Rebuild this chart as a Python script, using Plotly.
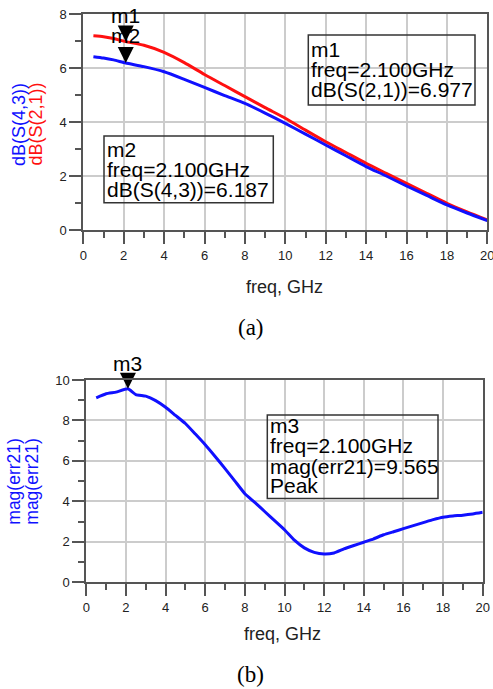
import plotly.graph_objects as go

# ---------------- data ----------------
freq_a = [0.5, 1, 1.5, 2.1, 3, 4, 5, 6, 7, 8, 9, 10, 11, 12, 13, 14, 15, 16, 17, 18, 19, 20]
s21_db = [7.19, 7.16, 7.09, 6.977, 6.84, 6.58, 6.20, 5.76, 5.35, 4.94, 4.53, 4.14, 3.70, 3.27,
          2.87, 2.47, 2.10, 1.73, 1.36, 0.99, 0.67, 0.37]
s43_db = [6.42, 6.37, 6.30, 6.187, 6.05, 5.86, 5.58, 5.28, 4.98, 4.69, 4.33, 3.95, 3.55, 3.15,
          2.75, 2.35, 2.00, 1.63, 1.28, 0.93, 0.63, 0.35]

freq_b = [0.5, 1.0, 1.5, 2.1, 2.5, 3.0, 3.5, 4.0, 4.5, 5.0, 5.5, 6.0, 6.5, 7.0, 7.5, 8.0, 8.5, 9.0,
          9.5, 10.0, 10.5, 11.0, 11.5, 12.0, 12.5, 13.0, 13.5, 14.0, 14.5, 15.0, 15.5, 16.0, 16.5,
          17.0, 17.5, 18.0, 18.5, 19.0, 19.5, 20.0]
err21 = [9.12, 9.32, 9.40, 9.565, 9.28, 9.20, 8.98, 8.65, 8.25, 7.85, 7.33, 6.80, 6.22, 5.62, 5.00,
         4.38, 3.95, 3.50, 3.05, 2.60, 2.08, 1.70, 1.48, 1.40, 1.45, 1.65, 1.82, 1.98, 2.15, 2.35,
         2.50, 2.65, 2.80, 2.95, 3.10, 3.22, 3.28, 3.32, 3.38, 3.46]

m1 = {"name": "m1", "freq": 2.1, "val": 6.977, "label": "dB(S(2,1))=6.977"}
m2 = {"name": "m2", "freq": 2.1, "val": 6.187, "label": "dB(S(4,3))=6.187"}
m3 = {"name": "m3", "freq": 2.1, "val": 9.565, "label": "mag(err21)=9.565"}

# ---------------- layout helpers ----------------
W, H = 493, 689
def px(x):
    return x / W
def py(y):
    return 1 - y / H

RED = "#ff1010"
BLUE = "#1010ff"
AX = "#555555"
GRID = "#cccccc"
SANS = "Liberation Sans, Arial, sans-serif"
SERIF = "Liberation Serif, Times New Roman, serif"

fig = go.Figure()
fig.add_trace(go.Scatter(x=freq_a, y=s21_db, mode="lines",
                         line=dict(color=RED, width=3, shape="spline", smoothing=0.6),
                         xaxis="x", yaxis="y", showlegend=False))
fig.add_trace(go.Scatter(x=freq_a, y=s43_db, mode="lines",
                         line=dict(color=BLUE, width=3, shape="spline", smoothing=0.6),
                         xaxis="x", yaxis="y", showlegend=False))
fig.add_trace(go.Scatter(x=freq_b, y=err21, mode="lines",
                         line=dict(color=BLUE, width=3, shape="spline", smoothing=0.4),
                         xaxis="x2", yaxis="y2", showlegend=False))

# marker triangles (tip on the data point)
for m, xa, ya in [(m1, "x", "y"), (m2, "x", "y"), (m3, "x2", "y2")]:
    fig.add_trace(go.Scatter(x=[m["freq"]], y=[m["val"]], mode="markers", cliponaxis=False,
                             marker=dict(symbol="arrow-down", size=16, color="black",
                                         line=dict(width=0)),
                             xaxis=xa, yaxis=ya, showlegend=False))

def axis_style(domain, rng, anchor):
    return dict(domain=domain, range=rng, anchor=anchor, dtick=2, tick0=0, automargin=False,
                ticklabeloverflow="allow",
                ticks="outside", ticklen=12, tickwidth=2, tickcolor=AX,
                showline=True, linecolor=AX, linewidth=2, mirror=True,
                showgrid=True, gridcolor=GRID, gridwidth=1.5, zeroline=False,
                minor=dict(dtick=1, ticks="outside", ticklen=6, tickwidth=2, tickcolor=AX, showgrid=False),
                tickfont=dict(family=SANS, size=13, color="#222"))

fig.update_layout(
    width=W, height=H, margin=dict(l=0, r=0, t=0, b=0, autoexpand=False),
    paper_bgcolor="white", plot_bgcolor="white", showlegend=False,
    xaxis=axis_style([px(83.3), px(487.3)], [0, 20], "y"),
    yaxis=axis_style([py(230), py(14)], [0, 8], "x"),
    xaxis2=axis_style([px(86.3), px(482.7)], [0, 20], "y2"),
    yaxis2=axis_style([py(582.3), py(380)], [0, 10], "x2"),
)

shapes = []
annotations = []

# marker labels
for m, xa, ya, shift in [(m1, "x", "y", 26), (m2, "x", "y", 27), (m3, "x2", "y2", 25)]:
    annotations.append(dict(x=m["freq"], y=m["val"], xref=xa, yref=ya, text=m["name"],
                            showarrow=False, yshift=shift, xanchor="center", yanchor="middle",
                            font=dict(family=SANS, size=21, color="black")))

# marker readout boxes
def readout(box, lines, baselines, fs=21):
    x0, y0, x1, y1 = box
    shapes.append(dict(type="rect", xref="paper", yref="paper", x0=px(x0), x1=px(x1),
                       y0=py(y1), y1=py(y0), line=dict(color="#333", width=1.5),
                       fillcolor="rgba(0,0,0,0)", layer="above"))
    for t, b in zip(lines, baselines):
        annotations.append(dict(x=px(x0 + 0.5), y=py(b - 7.5), xref="paper", yref="paper",
                                text=t, showarrow=False, xanchor="left", yanchor="middle",
                                font=dict(family=SANS, size=fs, color="black")))

readout((308.3, 35, 475, 105), ["m1", "freq=2.100GHz", m1["label"]], [56.7, 76.7, 96.7])
readout((104, 136, 273.3, 202.7), ["m2", "freq=2.100GHz", m2["label"]], [156.7, 176.7, 196.7])
readout((267.3, 415, 438, 498.5), ["m3", "freq=2.100GHz", m3["label"], "Peak"],
        [433.3, 453.3, 474, 493.3])

# axis titles and captions
def label(x, y, text, size, color, family=SANS, angle=0):
    return dict(x=px(x), y=py(y), xref="paper", yref="paper", text=text, textangle=angle,
                xanchor="center", yanchor="middle", showarrow=False,
                font=dict(family=family, size=size, color=color))

annotations += [
    label(18.5, 124.5, "dB(S(4,3))", 18, BLUE, angle=-90),
    label(35, 124.5, "dB(S(2,1))", 18, RED, angle=-90),
    label(14, 481.7, "mag(err21)", 17.5, BLUE, angle=-90),
    label(32, 481.7, "mag(err21)", 17.5, BLUE, angle=-90),
    label(284.3, 287, "freq, GHz", 18, "#222"),
    label(282.5, 634, "freq, GHz", 18, "#222"),
    label(250.5, 327, "(a)", 23, "black", family=SERIF),
    label(250.5, 674, "(b)", 23, "black", family=SERIF),
]

fig.update_layout(shapes=shapes, annotations=annotations)
fig.write_html("out.html")
